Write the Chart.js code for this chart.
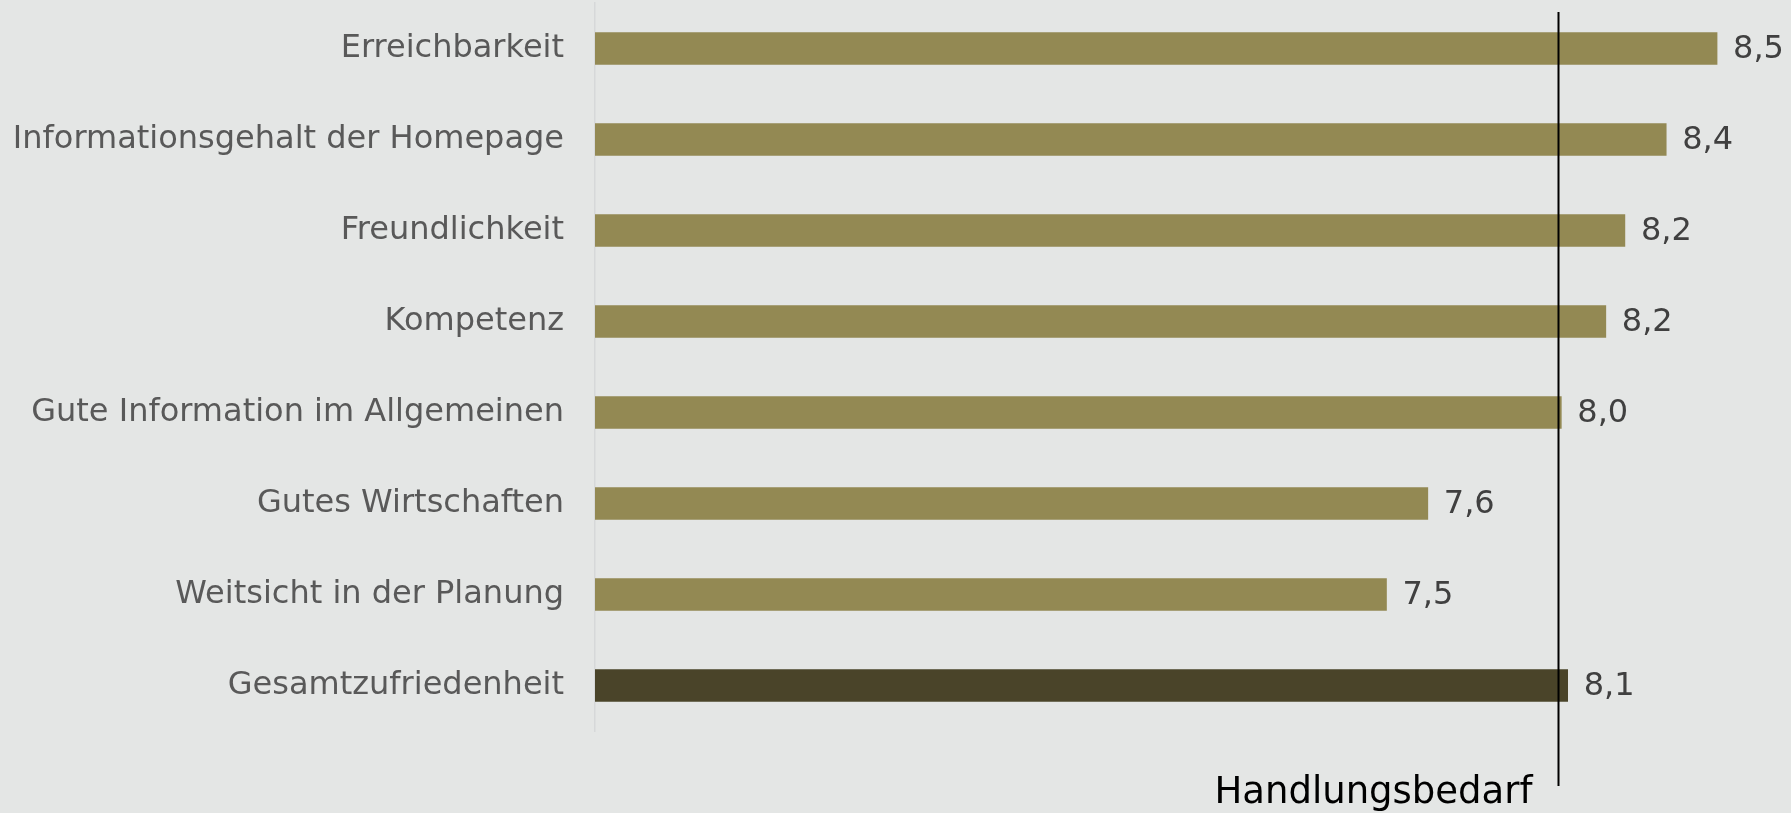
<!DOCTYPE html>
<html>
<head>
<meta charset="utf-8">
<script src="https://cdn.jsdelivr.net/npm/chart.js@4/dist/chart.umd.min.js"></script>
<style>
    body { margin: 0; background: #e4e6e5; overflow: hidden; }
    canvas { display: block; }
</style>
</head>
<body>
<canvas id="graph" width="1791" height="813"></canvas>
<script>
var categories = [
    "Erreichbarkeit",
    "Informationsgehalt der Homepage",
    "Freundlichkeit",
    "Kompetenz",
    "Gute Information im Allgemeinen",
    "Gutes Wirtschaften",
    "Weitsicht in der Planung",
    "Gesamtzufriedenheit"
];
var values = [8.53, 8.37, 8.24, 8.18, 8.04, 7.62, 7.49, 8.06];
var barColors = ["#938953", "#938953", "#938953", "#938953", "#938953", "#938953", "#938953", "#4a4429"];
var thresholdValue = 8.03;
var thresholdLabel = "Handlungsbedarf";
var FONT = "'DejaVu Sans', Verdana, sans-serif";

var valueLabels = {
    id: "valueLabels",
    afterDatasetsDraw: function(chart) {
        var ctx = chart.ctx;
        var meta = chart.getDatasetMeta(0);
        ctx.save();
        ctx.font = "32px " + FONT;
        ctx.fillStyle = "#404040";
        ctx.textAlign = "left";
        ctx.textBaseline = "middle";
        meta.data.forEach(function(bar, i) {
            var text = values[i].toFixed(1).replace(".", ",");
            ctx.fillText(text, bar.x + 16, bar.y + 1);
        });
        ctx.restore();
    }
};

var thresholdLine = {
    id: "thresholdLine",
    afterDatasetsDraw: function(chart) {
        var ctx = chart.ctx;
        var x = Math.round(chart.scales.x.getPixelForValue(thresholdValue)) + 0.5;
        ctx.save();
        ctx.strokeStyle = "#000000";
        ctx.lineWidth = 2;
        ctx.beginPath();
        ctx.moveTo(x, 12);
        ctx.lineTo(x, 786);
        ctx.stroke();
        ctx.font = "37px " + FONT;
        ctx.fillStyle = "#000000";
        ctx.textAlign = "right";
        ctx.textBaseline = "alphabetic";
        ctx.fillText(thresholdLabel, x - 26, 803);
        ctx.restore();
    }
};

var chart = new Chart(document.getElementById("graph").getContext("2d"), {
    type: "bar",
    data: {
        labels: categories,
        datasets: [{
            data: values,
            backgroundColor: barColors,
            barThickness: 32
        }]
    },
    options: {
        indexAxis: "y",
        responsive: false,
        animation: false,
        layout: { padding: { top: 3, right: 4, bottom: 82, left: 0 } },
        plugins: {
            legend: { display: false },
            tooltip: { enabled: false }
        },
        scales: {
            x: {
                display: false,
                min: 5,
                max: 8.75
            },
            y: {
                afterFit: function(scale) {
                    scale.width = 595;
                    scale.paddingTop = 0;
                    scale.paddingBottom = 0;
                },
                grid: { display: false, drawTicks: false },
                border: { display: true, color: "#d6d8d9", width: 1.5 },
                ticks: {
                    padding: 31,
                    color: "#595959",
                    font: { family: FONT, size: 32 }
                }
            }
        }
    },
    plugins: [valueLabels, thresholdLine]
});
</script>
</body>
</html>
